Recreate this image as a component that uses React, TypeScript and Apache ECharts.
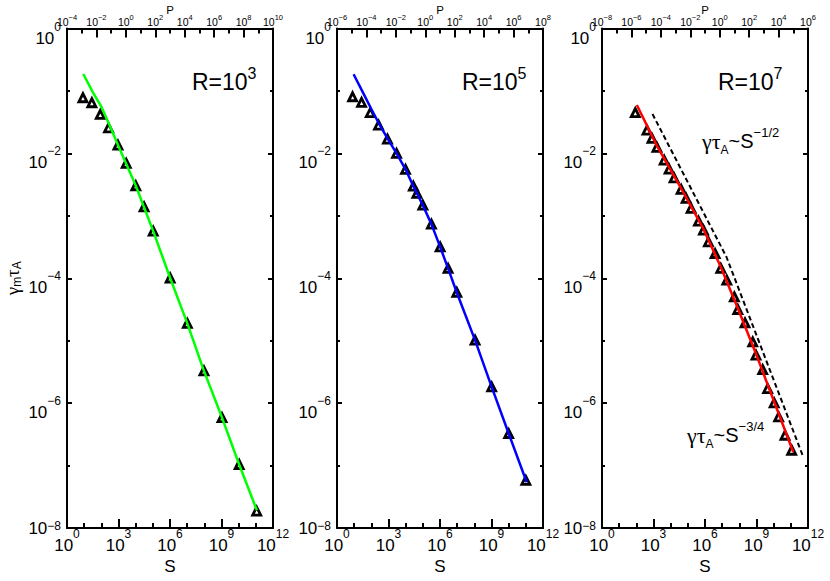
import React, { useEffect, useRef } from 'react';
import * as echarts from 'echarts';

const FONT = '"Liberation Sans", Arial, Helvetica, sans-serif';
const SERIF = '"Liberation Serif", "Times New Roman", serif';

// ---------- data ----------
// Panel R = 10^3
const S_R3 = [8.5, 28, 87, 263, 930, 2820, 1.02e4, 3.1e4, 1.05e5, 1.02e6, 1.02e7, 9.5e7, 1.07e9, 1.07e10, 1.12e11];
const G_R3 = [0.0778, 0.0647, 0.0422, 0.0257, 0.0136, 0.00692, 0.00303, 0.00139, 5.69e-4, 1.01e-4, 1.89e-5, 3.28e-6, 5.87e-7, 1.04e-7, 1.87e-8];
const FIT_S_R3 = [8.9, 31.6, 100, 316, 930, 1.02e4, 1.05e5, 1.02e6, 1.02e7, 9.5e7, 1.07e9, 1.07e10, 1.15e11];
const FIT_G_R3 = [0.187, 0.0955, 0.056, 0.0275, 0.0136, 0.00303, 5.69e-4, 1.01e-4, 1.89e-5, 3.28e-6, 5.87e-7, 1.04e-7, 1.92e-8];

// Panel R = 10^5
const S_R5 = [8.1, 27, 87, 263, 870, 2950, 9800, 2.8e4, 4.5e4, 1e5, 3.16e5, 1.02e6, 2.95e6, 9.5e6, 1.1e8, 1.02e9, 1e10, 1e11];
const G_R5 = [0.0807, 0.0656, 0.0448, 0.0284, 0.0169, 0.01, 0.00555, 0.00299, 0.00229, 0.00148, 7.36e-4, 3.18e-4, 1.44e-4, 5.92e-5, 1.02e-5, 1.82e-6, 3.26e-7, 5.81e-8];
const FIT_S_R5 = [9.3, 31.6, 100, 263, 870, 2950, 9800, 2.8e4, 1e5, 3.16e5, 1.02e6, 2.95e6, 9.5e6, 1.1e8, 1.02e9, 1e10, 1.12e11];
const FIT_G_R5 = [0.185, 0.0955, 0.0513, 0.0309, 0.0174, 0.01, 0.00555, 0.00299, 0.00148, 7.36e-4, 3.18e-4, 1.44e-4, 5.92e-5, 1.02e-5, 1.82e-6, 3.26e-7, 5.4e-8];

// Panel R = 10^7
const S_R7 = [87, 417, 813, 1585, 4170, 8130, 1.58e4, 4.07e4, 7.94e4, 1.55e5, 4.17e5, 8.13e5, 1.58e6, 3.89e6, 8.32e6, 1.86e7, 5.13e7, 8.13e7, 2.14e8, 6.03e8, 9.33e8, 2.29e9, 4.47e9, 1.07e10, 1.95e10, 4.57e10, 1.12e11];
const G_R7 = [0.0448, 0.0236, 0.0174, 0.0125, 0.00782, 0.0056, 0.00406, 0.00265, 0.0019, 0.00132, 8.22e-4, 5.9e-4, 3.83e-4, 2.49e-4, 1.44e-4, 9.33e-5, 5.04e-5, 3.16e-5, 1.93e-5, 9.57e-6, 5.86e-6, 3.45e-6, 1.71e-6, 1.01e-6, 6.01e-7, 3.06e-7, 1.76e-7];
const FIT_S_R7 = [107, 1585, 4.07e4, 8.13e5, 8.32e6, 8.13e7, 9.33e8, 1.07e10, 1.38e11];
const FIT_G_R7 = [0.0594, 0.0132, 0.00275, 6.17e-4, 1.51e-4, 3.31e-5, 6.17e-6, 1.05e-6, 1.65e-7];
// scaling guide lines (dashed): S^-1/2 then S^-3/4
const GUIDE_S = [871, 1.78e7, 5.25e11];
const GUIDE_G = [0.0427, 2.19e-4, 1.38e-7];

// axes ranges (decade exponents)
const S_EXP_RANGE = [0, 12];
const G_EXP_RANGE = [-8, 0];
const P_EXP_MIN = [-4, -6, -8];
const P_EXP_SPAN = 14;
const R_EXPONENTS = ['3', '5', '7'];

// ---------- layout / style ----------
const GRID_LEFT = [67, 337, 602];
const GRID_TOP = 28.5;
const GRID_W = 206;
const GRID_H = 499.5;
const LINE_COLORS = ['#00ff00', '#0000ff', '#ff0000'];
const R_LABEL_X = [192, 462, 718];

const toLog = (xs: number[], ys: number[]) => xs.map((x, i) => [Math.log10(x), Math.log10(ys[i])]);
const expText = (v: number) => {
  const e = Math.round(v);
  return e < 0 ? '\u2212' + Math.abs(e) : String(e);
};

const AX = '#000';
const tickStyle = { color: AX, width: 2 };

function buildOption() {
  const panels = [
    { pts: toLog(S_R3, G_R3), fit: toLog(FIT_S_R3, FIT_G_R3) },
    { pts: toLog(S_R5, G_R5), fit: toLog(FIT_S_R5, FIT_G_R5) },
    { pts: toLog(S_R7, G_R7), fit: toLog(FIT_S_R7, FIT_G_R7) },
  ];

  const grids: any[] = [];
  const xAxes: any[] = [];
  const yAxes: any[] = [];
  const series: any[] = [];
  const graphics: any[] = [];

  const bottomRich = {
    b: { fontSize: 17, lineHeight: 26, fontFamily: FONT, color: AX, verticalAlign: 'bottom' },
    s: { fontSize: 12, lineHeight: 22, fontFamily: FONT, color: AX, verticalAlign: 'top' },
  };
  const leftRich = {
    b: { fontSize: 17, lineHeight: 26, fontFamily: FONT, color: AX, verticalAlign: 'bottom' },
    b8: { fontSize: 17, lineHeight: 26, fontFamily: FONT, color: AX, verticalAlign: 'top', padding: [0, 0, 20, 0] },
    s: { fontSize: 12, lineHeight: 20, fontFamily: FONT, color: AX, verticalAlign: 'top' },
  };
  const topRich = {
    b: { fontSize: 10.5, lineHeight: 14, fontFamily: FONT, color: AX, verticalAlign: 'bottom' },
    s: { fontSize: 7.5, lineHeight: 10, fontFamily: FONT, color: AX, verticalAlign: 'top' },
  };

  panels.forEach((p, i) => {
    grids.push({
      left: GRID_LEFT[i], top: GRID_TOP, width: GRID_W, height: GRID_H,
      containLabel: false, outerBoundsMode: 'none', show: false,
    });
    // bottom S axis
    xAxes.push({
      type: 'value', gridIndex: i, position: 'bottom',
      min: S_EXP_RANGE[0], max: S_EXP_RANGE[1], interval: 3,
      axisLine: { show: true, onZero: false, lineStyle: { color: AX, width: 2 } },
      axisTick: { show: true, inside: true, length: 9, lineStyle: tickStyle },
      minorTick: { show: true, splitNumber: 3, length: 5, lineStyle: tickStyle },
      splitLine: { show: false }, minorSplitLine: { show: false },
      axisLabel: {
        margin: 0, showMinLabel: true, showMaxLabel: true,
        formatter: (v: number) => `{b|10}{s|${expText(v)}}`, rich: bottomRich,
      },
      name: 'S', nameLocation: 'middle', nameGap: 38, nameMoveOverlap: false,
      nameTextStyle: { fontSize: 17, fontFamily: FONT, color: AX, verticalAlign: 'middle' },
    });
    // top P axis
    xAxes.push({
      type: 'value', gridIndex: i, position: 'top',
      min: P_EXP_MIN[i], max: P_EXP_MIN[i] + P_EXP_SPAN, interval: 2,
      axisLine: { show: true, onZero: false, lineStyle: { color: AX, width: 2 } },
      axisTick: { show: true, inside: true, length: 9, lineStyle: tickStyle },
      minorTick: { show: true, splitNumber: 2, length: 5, lineStyle: tickStyle },
      splitLine: { show: false }, minorSplitLine: { show: false },
      axisLabel: {
        margin: 1, showMinLabel: true, showMaxLabel: true,
        formatter: (v: number) => `{b|10}{s|${expText(v)}}`, rich: topRich,
      },
      name: 'P', nameLocation: 'middle', nameGap: 19, nameMoveOverlap: false,
      nameTextStyle: { fontSize: 11.5, fontFamily: FONT, color: AX, verticalAlign: 'middle' },
    });
    // left y axis
    yAxes.push({
      type: 'value', gridIndex: i, position: 'left',
      min: G_EXP_RANGE[0], max: G_EXP_RANGE[1], interval: 2,
      axisLine: { show: true, onZero: false, lineStyle: { color: AX, width: 2 } },
      axisTick: { show: true, inside: true, length: 5, lineStyle: tickStyle },
      minorTick: { show: true, splitNumber: 2, length: 3, lineStyle: tickStyle },
      splitLine: { show: false }, minorSplitLine: { show: false },
      axisLabel: {
        margin: 6, padding: [10, 0, 0, 0], showMinLabel: true, showMaxLabel: true,
        formatter: (v: number) => {
          const e = Math.round(v);
          return e === -8 ? `{b8|10}{s|${expText(v)}}` : `{b|10}{s|${expText(v)}}`;
        },
        rich: leftRich,
      },
      ...(i === 0
        ? {
            name: '{g|\u03b3}{sub|m}{g|\u03c4}{sub|A}',
            nameLocation: 'middle', nameRotate: 90, nameGap: 54, nameMoveOverlap: false,
            nameTextStyle: {
              color: AX, verticalAlign: 'middle',
              rich: {
                g: { fontFamily: SERIF, fontSize: 19, lineHeight: 20, color: AX, verticalAlign: 'top' },
                sub: { fontFamily: FONT, fontSize: 12, lineHeight: 12, color: AX, verticalAlign: 'bottom' },
              },
            },
          }
        : {}),
    });
    // right y axis (box)
    yAxes.push({
      type: 'value', gridIndex: i, position: 'right',
      min: G_EXP_RANGE[0], max: G_EXP_RANGE[1], interval: 2,
      axisLine: { show: true, onZero: false, lineStyle: { color: AX, width: 2 } },
      axisTick: { show: true, inside: true, length: 5, lineStyle: tickStyle },
      minorTick: { show: true, splitNumber: 2, length: 3, lineStyle: tickStyle },
      splitLine: { show: false }, minorSplitLine: { show: false },
      axisLabel: { show: false },
    });

    series.push({
      type: 'scatter', xAxisIndex: 2 * i, yAxisIndex: 2 * i,
      data: p.pts, symbol: 'triangle', symbolSize: 8,
      itemStyle: { color: '#fff', borderColor: '#000', borderWidth: 2.8, opacity: 1 },
      z: 2,
    });
    series.push({
      type: 'line', xAxisIndex: 2 * i, yAxisIndex: 2 * i,
      data: p.fit, showSymbol: false, symbol: 'none', smooth: false,
      lineStyle: { color: LINE_COLORS[i], width: 2.5 }, z: 3,
    });

    graphics.push({
      type: 'text', x: R_LABEL_X[i], y: 79,
      style: {
        text: `{r|R=10}{rs|${R_EXPONENTS[i]}}`,
        align: 'left', verticalAlign: 'middle', textAlign: 'left', textVerticalAlign: 'middle',
        rich: {
          r: { fontSize: 23, lineHeight: 28, fontFamily: FONT, fill: AX, color: AX, verticalAlign: 'bottom' },
          rs: { fontSize: 16, lineHeight: 26, fontFamily: FONT, fill: AX, color: AX, verticalAlign: 'top' },
        },
      },
    });
  });

  series.push({
    type: 'line', xAxisIndex: 4, yAxisIndex: 4,
    data: toLog(GUIDE_S, GUIDE_G), showSymbol: false, symbol: 'none',
    lineStyle: { color: '#000', width: 2, type: [5, 3] }, z: 4,
  });

  const annRich = {
    g: { fontFamily: SERIF, fontSize: 22, lineHeight: 30, fill: AX, color: AX },
    sub: { fontFamily: FONT, fontSize: 12, lineHeight: 17, fill: AX, color: AX, verticalAlign: 'bottom' },
    t: { fontFamily: FONT, fontSize: 20, lineHeight: 30, fill: AX, color: AX },
    sup: { fontFamily: FONT, fontSize: 13, lineHeight: 16, fill: AX, color: AX, verticalAlign: 'top' },
  };
  graphics.push({
    type: 'text', x: 702, y: 141,
    style: {
      text: '{g|\u03b3\u03c4}{sub|A}{t|~S}{sup|\u22121/2}',
      align: 'left', verticalAlign: 'middle', textAlign: 'left', textVerticalAlign: 'middle',
      rich: annRich,
    },
  });
  graphics.push({
    type: 'text', x: 687, y: 435,
    style: {
      text: '{g|\u03b3\u03c4}{sub|A}{t|~S}{sup|\u22123/4}',
      align: 'left', verticalAlign: 'middle', textAlign: 'left', textVerticalAlign: 'middle',
      rich: annRich,
    },
  });

  return {
    animation: false,
    backgroundColor: '#fff',
    textStyle: { fontFamily: FONT, color: AX },
    grid: grids,
    xAxis: xAxes,
    yAxis: yAxes,
    series,
    graphic: graphics,
  };
}

export default function App() {
  const ref = useRef<HTMLDivElement>(null);
  useEffect(() => {
    if (!ref.current) return;
    const chart = echarts.init(ref.current, undefined, { renderer: 'svg' });
    chart.setOption(buildOption() as any);
    return () => chart.dispose();
  }, []);
  return (
    <div
      ref={ref}
      style={{ position: 'fixed', left: 0, top: 0, width: 830, height: 581, background: '#fff' }}
    />
  );
}
